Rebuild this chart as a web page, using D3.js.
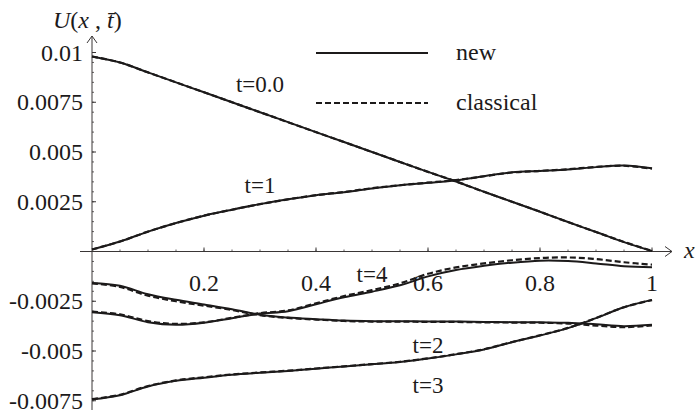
<!DOCTYPE html>
<html lang="en">
<head>
<meta charset="utf-8">
<script src="https://cdn.jsdelivr.net/npm/d3@7"></script>
<style>
  html, body { margin: 0; padding: 0; background: #fff; }
  svg { display: block; }
</style>
</head>
<body>
<svg id="chart" width="696" height="417"></svg>
<script>
// Sample positions along x
const xValues = [0, 0.05, 0.1, 0.15, 0.2, 0.25, 0.3, 0.35, 0.4, 0.45, 0.5,
                 0.55, 0.6, 0.65, 0.7, 0.75, 0.8, 0.85, 0.9, 0.95, 1];

// U(x, t), new scheme
const newT0 = [0.0098, 0.0095, 0.0090, 0.0085, 0.0080, 0.0075, 0.0070, 0.0065, 0.0060, 0.0055, 0.0050,
               0.0045, 0.0040, 0.00352, 0.0030, 0.0025, 0.0020, 0.00148, 0.00098, 0.00047, 0.00002];
const newT1 = [0.0001, 0.0005, 0.0010, 0.00143, 0.0018, 0.0021, 0.00238, 0.00262, 0.00283, 0.00298, 0.00317,
               0.00333, 0.00345, 0.00358, 0.00378, 0.00398, 0.00405, 0.00412, 0.00424, 0.00432, 0.00418];
const newT2 = [-0.00158, -0.00172, -0.00215, -0.00243, -0.00266, -0.0029, -0.00318, -0.00332, -0.0034, -0.00347, -0.0035,
               -0.0035, -0.00352, -0.00352, -0.00354, -0.00355, -0.00356, -0.00358, -0.00366, -0.00375, -0.00368];
const newT3 = [-0.00743, -0.00722, -0.00678, -0.0065, -0.00634, -0.00619, -0.00609, -0.006, -0.00589, -0.00578, -0.00567,
               -0.00555, -0.00538, -0.00517, -0.00492, -0.00456, -0.00422, -0.00385, -0.00335, -0.0028, -0.00243];
const newT4 = [-0.00305, -0.0032, -0.00355, -0.00368, -0.00358, -0.00335, -0.00312, -0.003, -0.00265, -0.0023, -0.00202,
               -0.0017, -0.00125, -0.00093, -0.00072, -0.00056, -0.00046, -0.00048, -0.0006, -0.00074, -0.00079];

// U(x, t), classical scheme
const classicT0 = [0.0098, 0.0095, 0.0090, 0.0085, 0.0080, 0.0075, 0.0070, 0.0065, 0.0060, 0.0055, 0.0050,
                   0.0045, 0.0040, 0.00352, 0.0030, 0.0025, 0.0020, 0.00148, 0.00098, 0.00048, 0.00003];
const classicT1 = [0.0001, 0.0005, 0.0010, 0.00143, 0.0018, 0.0021, 0.00238, 0.00262, 0.00283, 0.00299, 0.00318,
                   0.00333, 0.00346, 0.00359, 0.00378, 0.00397, 0.00405, 0.00413, 0.00425, 0.00431, 0.00416];
const classicT2 = [-0.0016, -0.00178, -0.00222, -0.0025, -0.00272, -0.00294, -0.0032, -0.00334, -0.00342, -0.00349, -0.00352,
                   -0.00352, -0.00354, -0.00354, -0.00356, -0.00357, -0.00358, -0.00362, -0.00372, -0.0038, -0.00372];
const classicT3 = [-0.00742, -0.0072, -0.00676, -0.00648, -0.00632, -0.00618, -0.00608, -0.00599, -0.00588, -0.00577, -0.00566,
                   -0.00554, -0.00537, -0.00516, -0.00491, -0.00455, -0.00421, -0.00384, -0.00334, -0.0028, -0.00244];
const classicT4 = [-0.00302, -0.00316, -0.0035, -0.00364, -0.00356, -0.00333, -0.0031, -0.00296, -0.0026, -0.00224, -0.00194,
                   -0.0016, -0.00112, -0.0008, -0.0006, -0.00044, -0.00033, -0.0003, -0.00038, -0.00054, -0.00066];

// Axis ticks and their labels
const xTicks = [0.2, 0.4, 0.6, 0.8, 1];
const xTickLabels = ["0.2", "0.4", "0.6", "0.8", "1"];
const yTicks = [0.01, 0.0075, 0.005, 0.0025, -0.0025, -0.005, -0.0075];
const yTickLabels = ["0.01", "0.0075", "0.005", "0.0025", "-0.0025", "-0.005", "-0.0075"];

// Curve captions and legend entries
const curveNames = ["t=0.0", "t=1", "t=2", "t=3", "t=4"];
const legendNames = ["new", "classical"];

const serifStyle = "font-family: 'Liberation Serif', 'Times New Roman', Tinos";
const ink = "#1c1a1a";

const svg = d3.select("#chart");

const x = d3.scaleLinear().domain([0, 1]).range([92, 652]);
const y = d3.scaleLinear().domain([-0.0075, 0.01]).range([400.75, 52.5]);

// every text node uses the serif face
function label(sel, size) {
  return sel.attr("style", serifStyle).attr("font-size", size).attr("fill", ink);
}

// ----- axes -----
const axisG = svg.append("g").attr("stroke", "#3a3636").attr("stroke-width", 1);

// horizontal axis line with arrow
axisG.append("line").attr("x1", 80).attr("x2", 672).attr("y1", y(0)).attr("y2", y(0));
axisG.append("path")
  .attr("d", `M${665},${y(0) - 5} L${672},${y(0)} L${665},${y(0) + 5}`)
  .attr("fill", "none");

// vertical axis line with arrow
axisG.append("line").attr("x1", x(0)).attr("x2", x(0)).attr("y1", 36).attr("y2", 410);
axisG.append("path")
  .attr("d", `M${x(0) - 5},${43} L${x(0)},${36} L${x(0) + 5},${43}`)
  .attr("fill", "none");

// minor and major ticks on the x axis (pointing up)
const xMinor = d3.range(0.05, 1.0001, 0.05);
axisG.selectAll(".xminor").data(xMinor).enter().append("line")
  .attr("x1", d => x(d)).attr("x2", d => x(d))
  .attr("y1", y(0)).attr("y2", y(0) - 2)
  .attr("stroke-width", 0.8);
axisG.selectAll(".xmajor").data(xTicks).enter().append("line")
  .attr("x1", d => x(d)).attr("x2", d => x(d))
  .attr("y1", y(0)).attr("y2", y(0) - 4);

// minor and major ticks on the y axis (pointing right)
const yMinor = d3.range(-0.0075, 0.01001, 0.0005);
axisG.selectAll(".yminor").data(yMinor).enter().append("line")
  .attr("x1", x(0)).attr("x2", x(0) + 2)
  .attr("y1", d => y(d)).attr("y2", d => y(d))
  .attr("stroke-width", 0.8);
axisG.selectAll(".ymajor").data(yTicks).enter().append("line")
  .attr("x1", x(0)).attr("x2", x(0) + 4)
  .attr("y1", d => y(d)).attr("y2", d => y(d));

// tick labels
label(svg.selectAll(".xlab").data(xTicks).enter().append("text"), 24)
  .attr("x", d => x(d)).attr("y", y(0) + 39)
  .attr("text-anchor", "middle")
  .text((d, i) => xTickLabels[i]);
label(svg.selectAll(".ylab").data(yTicks).enter().append("text"), 24)
  .attr("x", 83).attr("y", d => y(d) + 8)
  .attr("text-anchor", "end")
  .text((d, i) => yTickLabels[i]);

// axis titles
const yTitle = label(svg.append("text"), 24).attr("x", 53).attr("y", 28);
yTitle.append("tspan").attr("font-style", "italic").text("U");
yTitle.append("tspan").text("(");
yTitle.append("tspan").attr("font-style", "italic").text("x");
yTitle.append("tspan").text(" , ");
yTitle.append("tspan").attr("font-style", "italic").text("t\u0304");
yTitle.append("tspan").text(")");

label(svg.append("text"), 24).attr("x", 684).attr("y", y(0) + 6)
  .attr("font-style", "italic").text("x");

// ----- curves -----
const line = d3.line()
  .x((d, i) => x(xValues[i]))
  .y(d => y(d))
  .curve(d3.curveCatmullRom.alpha(0.5));

const newSeries = [newT0, newT1, newT2, newT3, newT4];
const classicSeries = [classicT0, classicT1, classicT2, classicT3, classicT4];

svg.append("g").selectAll("path").data(classicSeries).enter().append("path")
  .attr("d", d => line(d))
  .attr("fill", "none").attr("stroke", ink)
  .attr("stroke-width", 2.2).attr("stroke-dasharray", "6,3");

svg.append("g").selectAll("path").data(newSeries).enter().append("path")
  .attr("d", d => line(d))
  .attr("fill", "none").attr("stroke", ink)
  .attr("stroke-width", 2);

// curve captions
const captionAnchors = [
  [0.30, 0.0080],
  [0.30, 0.00294],
  [0.60, -0.0051],
  [0.60, -0.0071],
  [0.50, -0.00153]
];
label(svg.selectAll(".cap").data(curveNames).enter().append("text"), 23)
  .attr("x", (d, i) => x(captionAnchors[i][0]))
  .attr("y", (d, i) => y(captionAnchors[i][1]))
  .attr("text-anchor", "middle")
  .text(d => d);

// ----- legend -----
const legend = svg.append("g");
legendNames.forEach((name, i) => {
  const ly = 53 + i * 50;
  legend.append("line")
    .attr("x1", 316).attr("x2", 428).attr("y1", ly).attr("y2", ly)
    .attr("stroke", ink).attr("stroke-width", 1.8)
    .attr("stroke-dasharray", i === 0 ? null : "6,3");
  label(legend.append("text"), 24).attr("x", 456).attr("y", ly + 7).text(name);
});
</script>
</body>
</html>
